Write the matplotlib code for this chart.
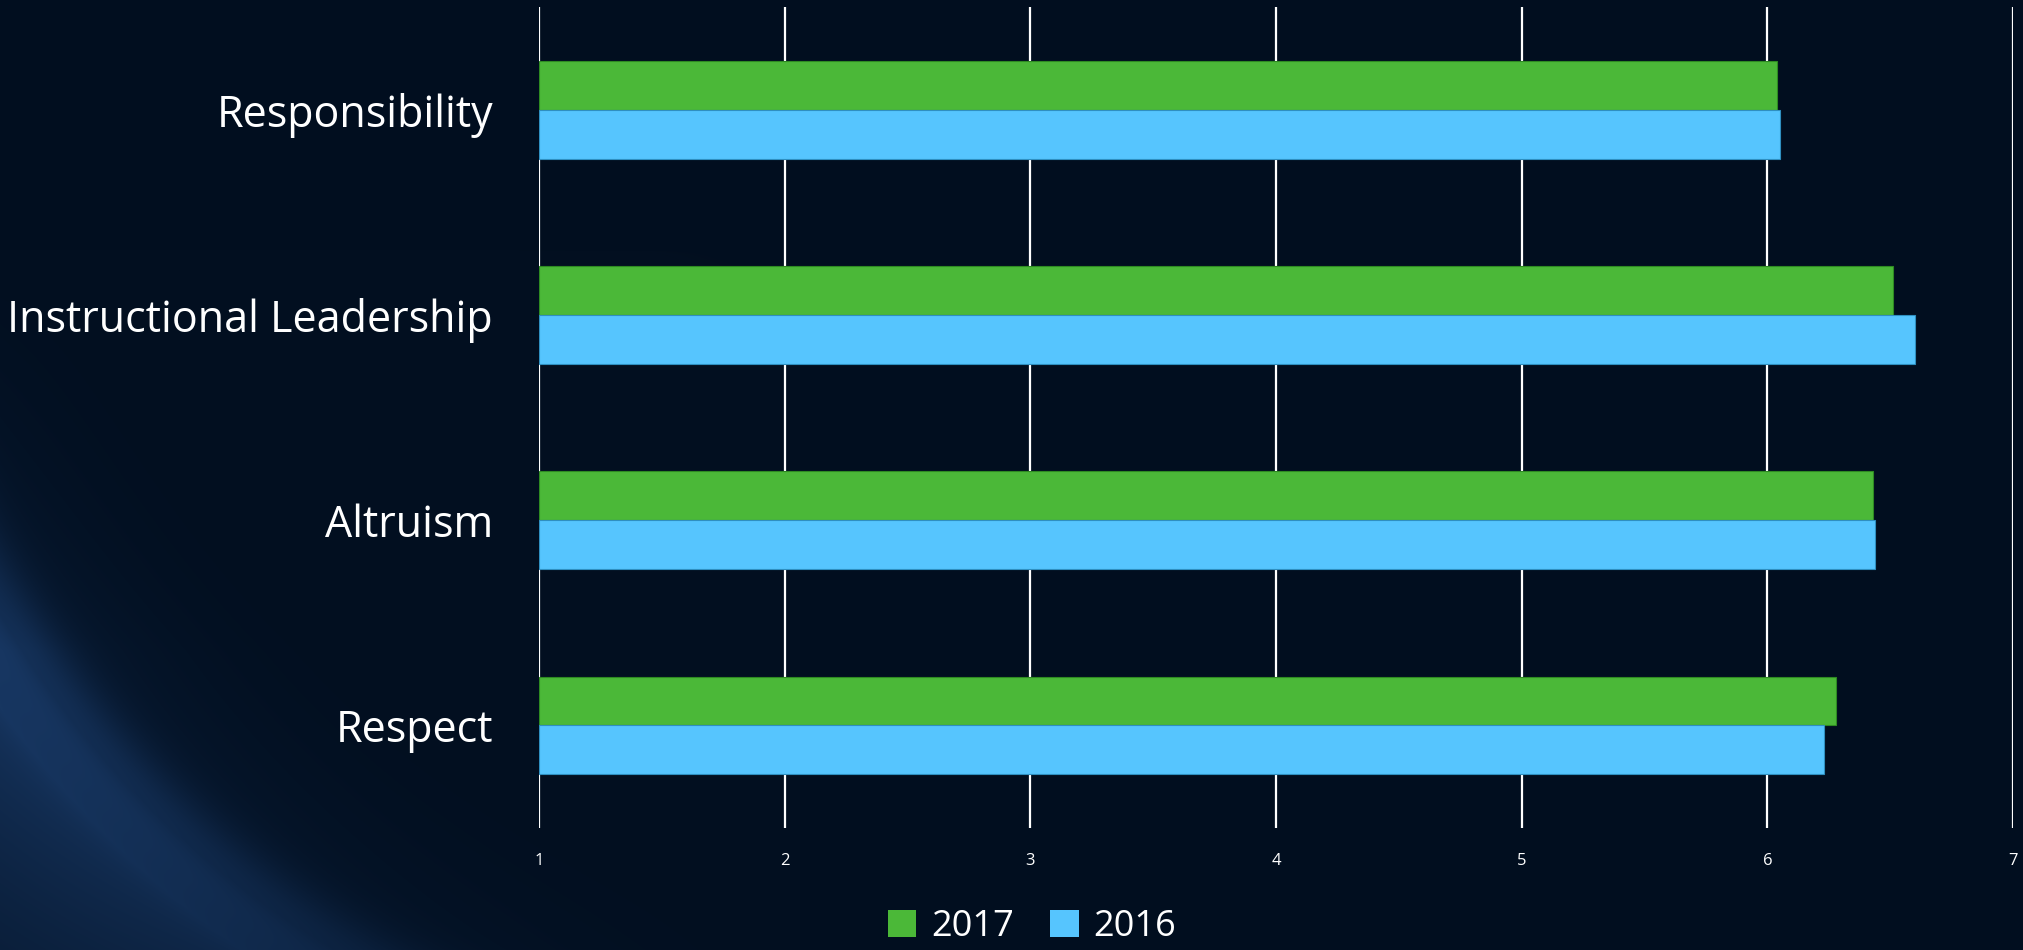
import numpy as np
import matplotlib.pyplot as plt

plt.rcParams['font.family'] = ['Open Sans', 'DejaVu Sans']

categories = ['Responsibility', 'Instructional Leadership', 'Altruism', 'Respect']
values_2017 = [6.04, 6.51, 6.43, 6.28]
values_2016 = [6.05, 6.60, 6.44, 6.23]
x_ticks = [1, 2, 3, 4, 5, 6, 7]

green = '#4bb838'
blue = '#56c5fe'
bg = '#020f20'

fig = plt.figure(figsize=(20.23, 9.5), dpi=100)
fig.patch.set_facecolor(bg)

# background glow in the lower left corner
bg_ax = fig.add_axes([0, 0, 1, 1], zorder=-10)
W, H = 2023, 950
xx, yy = np.meshgrid(np.arange(W), np.arange(H))
cx, cy, R = 800, 150, 925
r = np.hypot(xx - cx, yy - cy)
band = 0.30 * np.exp(-((r - R) / 40.0) ** 2)
outer = np.clip((r - R) / 50.0, 0, 1) * 0.38 * np.exp(-np.clip(r - R, 0, None) / 300.0)
soft = 0.12 * np.exp(-((r - R) / 140.0) ** 2)
glow = np.clip(band + outer + soft, 0, 1)
glow *= np.clip(1 - xx / 800.0, 0, 1) * np.clip((yy - 250) / 400.0, 0, 1)
base = np.array([2, 15, 32]) / 255.0
light = np.array([45, 95, 165]) / 255.0
img = base[None, None, :] * (1 - glow[..., None]) + light[None, None, :] * glow[..., None]
bg_ax.imshow(img, aspect='auto', extent=[0, 1, 0, 1], origin='upper')
bg_ax.axis('off')

ax = fig.add_axes([0.2664, 0.1284, 0.7287, 0.8642])
ax.set_facecolor('none')

y = np.arange(len(categories))
h = 0.238
ax.barh(y - h / 2, np.array(values_2017) - 1, left=1, height=h, color=green,
        edgecolor='#2e8a22', linewidth=0.8, label='2017', zorder=3)
ax.barh(y + h / 2, np.array(values_2016) - 1, left=1, height=h, color=blue,
        edgecolor='#2f8fc0', linewidth=0.8, label='2016', zorder=3)

ax.set_xlim(1, 7)
ax.set_ylim(3.5, -0.5)
ax.set_xticks(x_ticks)
ax.set_xticklabels([str(t) for t in x_ticks], color='white', fontsize=12)
ax.set_yticks(y)
ax.set_yticklabels(categories, color='white', fontsize=31)
ax.tick_params(axis='x', length=0, pad=18)
ax.tick_params(axis='y', length=0, pad=33)
ax.grid(axis='x', color='white', linewidth=1.6, zorder=1)
ax.set_axisbelow(True)
for s in ax.spines.values():
    s.set_visible(False)

handles, labels = ax.get_legend_handles_labels()
leg = fig.legend(handles, labels, loc='center', bbox_to_anchor=(0.51, 0.024),
                 ncol=2, frameon=False, fontsize=26, handlelength=0.8,
                 handleheight=0.8, handletextpad=0.4, columnspacing=1.0)
for t in leg.get_texts():
    t.set_color('white')
for p in leg.get_patches():
    p.set_edgecolor('none')

fig.savefig('out.png', dpi=100, facecolor=bg)
